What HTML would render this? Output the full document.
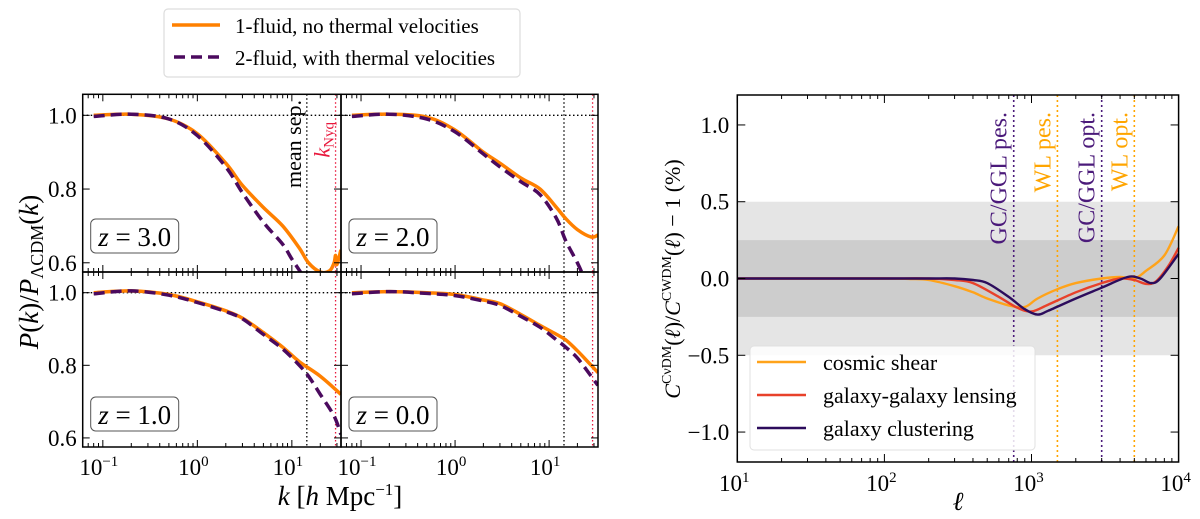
<!DOCTYPE html>
<html><head><meta charset="utf-8">
<style>
html,body{margin:0;padding:0;background:#fff;font-family:"Liberation Serif",serif;}
svg{display:block;}
svg text{font-family:"Liberation Serif","DejaVu Serif",serif;}
</style></head>
<body>
<svg id="fig" width="1200" height="519" viewBox="0 0 1200 519" font-family="Liberation Serif, serif"></svg>
<script>
// ---------- Left panels data (k in h/Mpc, ratio) ----------
const kTicks = [-1, 0, 1];
const yTicksLeft = [0.6, 0.8, 1.0];
const zLabels = ["z = 3.0", "z = 2.0", "z = 1.0", "z = 0.0"];
const k1 = [0.08,0.2,0.5,1,2,3,5,8,12,15,20,25,28,29,30,33];
const z3Fluid1 = [1.0,1.003,0.99,0.95,0.87,0.81,0.75,0.70,0.64,0.60,0.575,0.578,0.60,0.62,0.595,0.635];
const k2a = [0.08,0.2,0.5,1,2,3,5,8,10,12,13];
const z3Fluid2 = [0.997,1.003,0.99,0.945,0.86,0.79,0.71,0.65,0.61,0.58,0.565];
const kb = [0.08,0.2,0.5,1,2,3,5,8,12,15,20,28,33];
const z2Fluid1 = [1.0,1.003,0.995,0.96,0.90,0.87,0.83,0.80,0.75,0.72,0.69,0.67,0.675];
const k2b = [0.08,0.2,0.5,1,2,3,5,8,12,15,20,23];
const z2Fluid2 = [0.997,1.003,0.99,0.955,0.895,0.86,0.82,0.785,0.72,0.66,0.60,0.565];
const kc = [0.08,0.2,0.5,1,2,3,5,8,12,20,33];
const z1Fluid1 = [1.0,1.005,0.995,0.975,0.95,0.93,0.89,0.85,0.81,0.77,0.72];
const kc2 = [0.08,0.2,0.5,1,2,3,5,8,12,15,20,28,33];
const z1Fluid2 = [0.997,1.005,0.993,0.973,0.948,0.928,0.885,0.845,0.80,0.77,0.72,0.66,0.61];
const kd = [0.08,0.2,0.5,1,2,3,5,8,12,15,20,28,33];
const z0Fluid1 = [1.0,1.003,1.0,0.995,0.98,0.97,0.94,0.91,0.885,0.87,0.84,0.80,0.78];
const z0Fluid2 = [0.997,1.003,0.998,0.992,0.977,0.965,0.935,0.905,0.87,0.85,0.82,0.77,0.745];
const meanSepK = 14.4;
const kNyq = 29;

// ---------- Right chart data ----------
const ellTicks = [1,2,3,4];
const yTicksRight = [-1.0,-0.5,0.0,0.5,1.0];
const ellShear = [10,30,100,150,200,300,400,500,700,900,1100,1500,2000,3000,4000,5000,6000,8000,10000];
const shear = [0,0,0,-0.003,-0.01,-0.05,-0.09,-0.13,-0.175,-0.185,-0.13,-0.07,-0.03,0.0,0.01,0.0,0.05,0.15,0.34];
const ellGGL = [10,30,100,200,300,400,600,800,1000,1300,2000,3000,4000,5000,6000,7000,8500,10000];
const ggl = [0,0,0,0,-0.01,-0.03,-0.12,-0.19,-0.215,-0.17,-0.09,-0.03,0.0,-0.01,-0.035,-0.02,0.08,0.2];
const ellGC = [10,30,100,200,300,400,500,700,900,1100,1300,2000,3000,4500,5500,6500,7500,10000];
const gc = [0,0,0,0,0,-0.01,-0.03,-0.12,-0.2,-0.235,-0.21,-0.13,-0.06,0.01,0.0,-0.03,0.0,0.16];
const scaleCutsEll = [757,1500,3000,5000];
const scaleCutLabels = ["GC/GGL pes.","WL pes.","GC/GGL opt.","WL opt."];

const NS="http://www.w3.org/2000/svg";
const svg=document.getElementById('fig');
function E(tag,attrs,parent,text){const e=document.createElementNS(NS,tag);for(const a in attrs)e.setAttribute(a,attrs[a]);if(tag==='text')e.setAttribute('font-family','Liberation Serif, serif');if(text!==undefined)e.textContent=text;(parent||svg).appendChild(e);return e;}
function smooth(pts){let d='M'+pts[0][0].toFixed(1)+','+pts[0][1].toFixed(1);for(let i=0;i<pts.length-1;i++){const p0=pts[Math.max(0,i-1)],p1=pts[i],p2=pts[i+1],p3=pts[Math.min(pts.length-1,i+2)];const c1x=p1[0]+(p2[0]-p0[0])/6,c1y=p1[1]+(p2[1]-p0[1])/6,c2x=p2[0]-(p3[0]-p1[0])/6,c2y=p2[1]-(p3[1]-p1[1])/6;d+=` C${c1x.toFixed(1)},${c1y.toFixed(1)} ${c2x.toFixed(1)},${c2y.toFixed(1)} ${p2[0].toFixed(1)},${p2[1].toFixed(1)}`;}return d;}

// ---------- Left panels ----------
const lxMin=-1.213, lxMax=1.52, lyMin=0.575, lyMax=1.057;
const panels=[
 {x0:82.7,x1:341,y0:94.3,y1:272,z:0,f1:[k1,z3Fluid1],f2:[k2a,z3Fluid2],yl:true,xl:false},
 {x0:341,x1:598,y0:94.3,y1:272,z:1,f1:[kb,z2Fluid1],f2:[k2b,z2Fluid2],yl:false,xl:false},
 {x0:82.7,x1:341,y0:272,y1:447,z:2,f1:[kc,z1Fluid1],f2:[kc2,z1Fluid2],yl:true,xl:true},
 {x0:341,x1:598,y0:272,y1:447,z:3,f1:[kd,z0Fluid1],f2:[kd,z0Fluid2],yl:false,xl:true}];
panels.forEach((p,pi)=>{
 const g=E('g',{});
 const X=v=>p.x0+(Math.log10(v)-lxMin)/(lxMax-lxMin)*(p.x1-p.x0);
 const Y=v=>p.y1-(v-lyMin)/(lyMax-lyMin)*(p.y1-p.y0);
 const cid='clipL'+pi;
 const cp=E('clipPath',{id:cid},g);E('rect',{x:p.x0,y:p.y0,width:p.x1-p.x0,height:p.y1-p.y0},cp);
 E('line',{x1:p.x0,x2:p.x1,y1:Y(1),y2:Y(1),stroke:'#000','stroke-width':1.3,'stroke-dasharray':'1.5,2.5',},g);
 E('line',{x1:X(meanSepK),x2:X(meanSepK),y1:p.y0,y2:p.y1,stroke:'#000','stroke-width':1.3,'stroke-dasharray':'1.5,2.5',},g);
 E('line',{x1:X(kNyq),x2:X(kNyq),y1:p.y0,y2:p.y1,stroke:'#e8183c','stroke-width':1.3,'stroke-dasharray':'1.5,2.5',},g);
 const cg=E('g',{'clip-path':`url(#${cid})`},g);
 E('path',{d:smooth(p.f1[0].map((k,i)=>[X(k),Y(p.f1[1][i])])),fill:'none',stroke:'#ff8000','stroke-width':3.5,},cg);
 E('path',{d:smooth(p.f2[0].map((k,i)=>[X(k),Y(p.f2[1][i])])),fill:'none',stroke:'#4b0a5e','stroke-width':3.5,'stroke-dasharray':'11,6',},cg);
 for(let d=-2;d<=2;d++)for(let m=1;m<10;m++){const v=m*Math.pow(10,d);const lv=Math.log10(v);if(lv<lxMin||lv>lxMax)continue;const x=X(v);const L=m===1?7:4;
   E('line',{x1:x,x2:x,y1:p.y1,y2:p.y1-L,stroke:'#000','stroke-width':1},g);E('line',{x1:x,x2:x,y1:p.y0,y2:p.y0+L,stroke:'#000','stroke-width':1},g);}
 yTicksLeft.forEach(v=>{const y=Y(v);E('line',{x1:p.x0,x2:p.x0+7,y1:y,y2:y,stroke:'#000'},g);E('line',{x1:p.x1,x2:p.x1-7,y1:y,y2:y,stroke:'#000'},g);
   if(p.yl)E('text',{x:p.x0-6,y:y+8,'text-anchor':'end','font-size':23,},g,v.toFixed(1));});
 if(p.xl)kTicks.forEach(t=>{const x=X(Math.pow(10,t));const tx=E('text',{x:x-4,y:p.y1+28,'text-anchor':'middle','font-size':23,},g,'10');E('tspan',{dy:-9,'font-size':15},tx,String(t).replace('-','−'));});
 E('rect',{x:p.x0,y:p.y0,width:p.x1-p.x0,height:p.y1-p.y0,fill:'none',stroke:'#000','stroke-width':1.5},g);
 const bx=p.x0+8,by=p.y1-(p.y0<100?53:50);
 E('rect',{x:bx,y:by,width:88,height:34,rx:5,fill:'#fff',stroke:'#555','stroke-width':1,},g);
 const t=E('text',{x:bx+44,y:by+27,'text-anchor':'middle','font-size':27,},g);
 E('tspan',{'font-style':'italic'},t,'z');E('tspan',{},t,' = '+zLabels[p.z].split('= ')[1]);
 if(pi===0){
  E('text',{transform:`translate(${X(meanSepK)-6},100) rotate(-90)`,'text-anchor':'end','font-size':22,},g,'mean sep.');
  const kt=E('text',{transform:`translate(${X(kNyq)-6},122) rotate(-90)`,'text-anchor':'end','font-size':22,fill:'#e8183c',},g);
  E('tspan',{'font-style':'italic'},kt,'k');E('tspan',{'font-size':15,dy:4},kt,'Nyq');
 }
});
const yl=E('text',{transform:'translate(38,272) rotate(-90)','text-anchor':'middle','font-size':27,});
E('tspan',{'font-style':'italic'},yl,'P');E('tspan',{},yl,'(');E('tspan',{'font-style':'italic'},yl,'k');E('tspan',{},yl,')/');E('tspan',{'font-style':'italic'},yl,'P');E('tspan',{'font-size':18,dy:5},yl,'ΛCDM');E('tspan',{dy:-5},yl,'(');E('tspan',{'font-style':'italic'},yl,'k');E('tspan',{},yl,')');
const xl=E('text',{x:340,y:505,'text-anchor':'middle','font-size':27,});
E('tspan',{'font-style':'italic'},xl,'k');E('tspan',{},xl,' [');E('tspan',{'font-style':'italic'},xl,'h');E('tspan',{},xl,' Mpc');E('tspan',{'font-size':17,dy:-10},xl,'−1');E('tspan',{dy:10},xl,']');
const lg=E('g',{});
E('rect',{x:164,y:9,width:356,height:68,rx:4,fill:'#fff',stroke:'#ddd','stroke-width':1.2},lg);
E('line',{x1:172,x2:220,y1:25,y2:25,stroke:'#ff8000','stroke-width':3.5,},lg);
E('text',{x:235,y:33,'font-size':21,},lg,'1-fluid, no thermal velocities');
E('line',{x1:174,x2:220,y1:57,y2:57,stroke:'#4b0a5e','stroke-width':3.5,'stroke-dasharray':'11,6',},lg);
E('text',{x:235,y:65,'font-size':21,},lg,'2-fluid, with thermal velocities');

// ---------- Right chart ----------
const R={x0:737.3,x1:1178.6,y0:95,y1:462};
const rxMin=1,rxMax=4,ryMin=-1.195,ryMax=1.195;
const RX=v=>R.x0+(Math.log10(v)-rxMin)/(rxMax-rxMin)*(R.x1-R.x0);
const RY=v=>R.y1-(v-ryMin)/(ryMax-ryMin)*(R.y1-R.y0);
const rg=E('g',{});
E('rect',{x:R.x0,y:RY(0.5),width:R.x1-R.x0,height:RY(-0.5)-RY(0.5),fill:'#e5e5e5',},rg);
E('rect',{x:R.x0,y:RY(0.25),width:R.x1-R.x0,height:RY(-0.25)-RY(0.25),fill:'#cdcdcd',},rg);
const cutColors=['#4b1a7a','#ffa500','#4b1a7a','#ffa500'];
scaleCutsEll.forEach((l,i)=>{const x=RX(l);
 E('line',{x1:x,x2:x,y1:R.y0,y2:R.y1,stroke:cutColors[i],'stroke-width':1.6,'stroke-dasharray':'2,3',},rg);
 E('text',{transform:`translate(${x-7},112) rotate(-90)`,'text-anchor':'end','font-size':24,fill:cutColors[i],},rg,scaleCutLabels[i]);});
const series=[[ellShear,shear,'#ffa31a','cosmic shear'],[ellGGL,ggl,'#e8412a','galaxy-galaxy lensing'],[ellGC,gc,'#2c0c5c','galaxy clustering']];
series.forEach(s=>{E('path',{d:smooth(s[0].map((l,i)=>[RX(l),RY(s[1][i])])),fill:'none',stroke:s[2],'stroke-width':2.4,},rg);});
for(let d=1;d<4;d++)for(let m=1;m<10;m++){const v=m*Math.pow(10,d);const x=RX(v);const L=m===1?8:4;
 E('line',{x1:x,x2:x,y1:R.y1,y2:R.y1-L,stroke:'#000'},rg);E('line',{x1:x,x2:x,y1:R.y0,y2:R.y0+L,stroke:'#000'},rg);}
ellTicks.forEach(t=>{const x=RX(Math.pow(10,t));const tx=E('text',{x:x-3,y:R.y1+29,'text-anchor':'middle','font-size':23,},rg,'10');E('tspan',{dy:-9,'font-size':15},tx,String(t));});
yTicksRight.forEach(v=>{const y=RY(v);E('line',{x1:R.x0,x2:R.x0+8,y1:y,y2:y,stroke:'#000'},rg);E('line',{x1:R.x1,x2:R.x1-8,y1:y,y2:y,stroke:'#000'},rg);
 E('text',{x:R.x0-8,y:y+8,'text-anchor':'end','font-size':23,},rg,(v<0?'−':'')+Math.abs(v).toFixed(1));});
E('rect',{x:R.x0,y:R.y0,width:R.x1-R.x0,height:R.y1-R.y0,fill:'none',stroke:'#000','stroke-width':1.5},rg);
const rl=E('g',{});
E('rect',{x:750,y:346,width:285,height:104,rx:4,fill:'#fff','fill-opacity':0.85,stroke:'#e0e0e0'},rl);
series.forEach((s,i)=>{const y=362+i*33;E('line',{x1:757,x2:806,y1:y,y2:y,stroke:s[2],'stroke-width':2.4,},rl);
 E('text',{x:823,y:y+8,'font-size':22,},rl,s[3]);});
const ryl=E('text',{transform:'translate(680,279) rotate(-90)','text-anchor':'middle','font-size':22,});
E('tspan',{'font-style':'italic'},ryl,'C');E('tspan',{'font-size':14,dy:-9},ryl,'CνDM');E('tspan',{dy:9},ryl,'(');E('tspan',{'font-style':'italic'},ryl,'ℓ');E('tspan',{},ryl,')/');E('tspan',{'font-style':'italic'},ryl,'C');E('tspan',{'font-size':14,dy:-9},ryl,'CWDM');E('tspan',{dy:9},ryl,'(');E('tspan',{'font-style':'italic'},ryl,'ℓ');E('tspan',{},ryl,') − 1 (%)');
E('text',{x:958,y:510,'text-anchor':'middle','font-size':26,'font-style':'italic',},null,'ℓ');
</script>
</body></html>
